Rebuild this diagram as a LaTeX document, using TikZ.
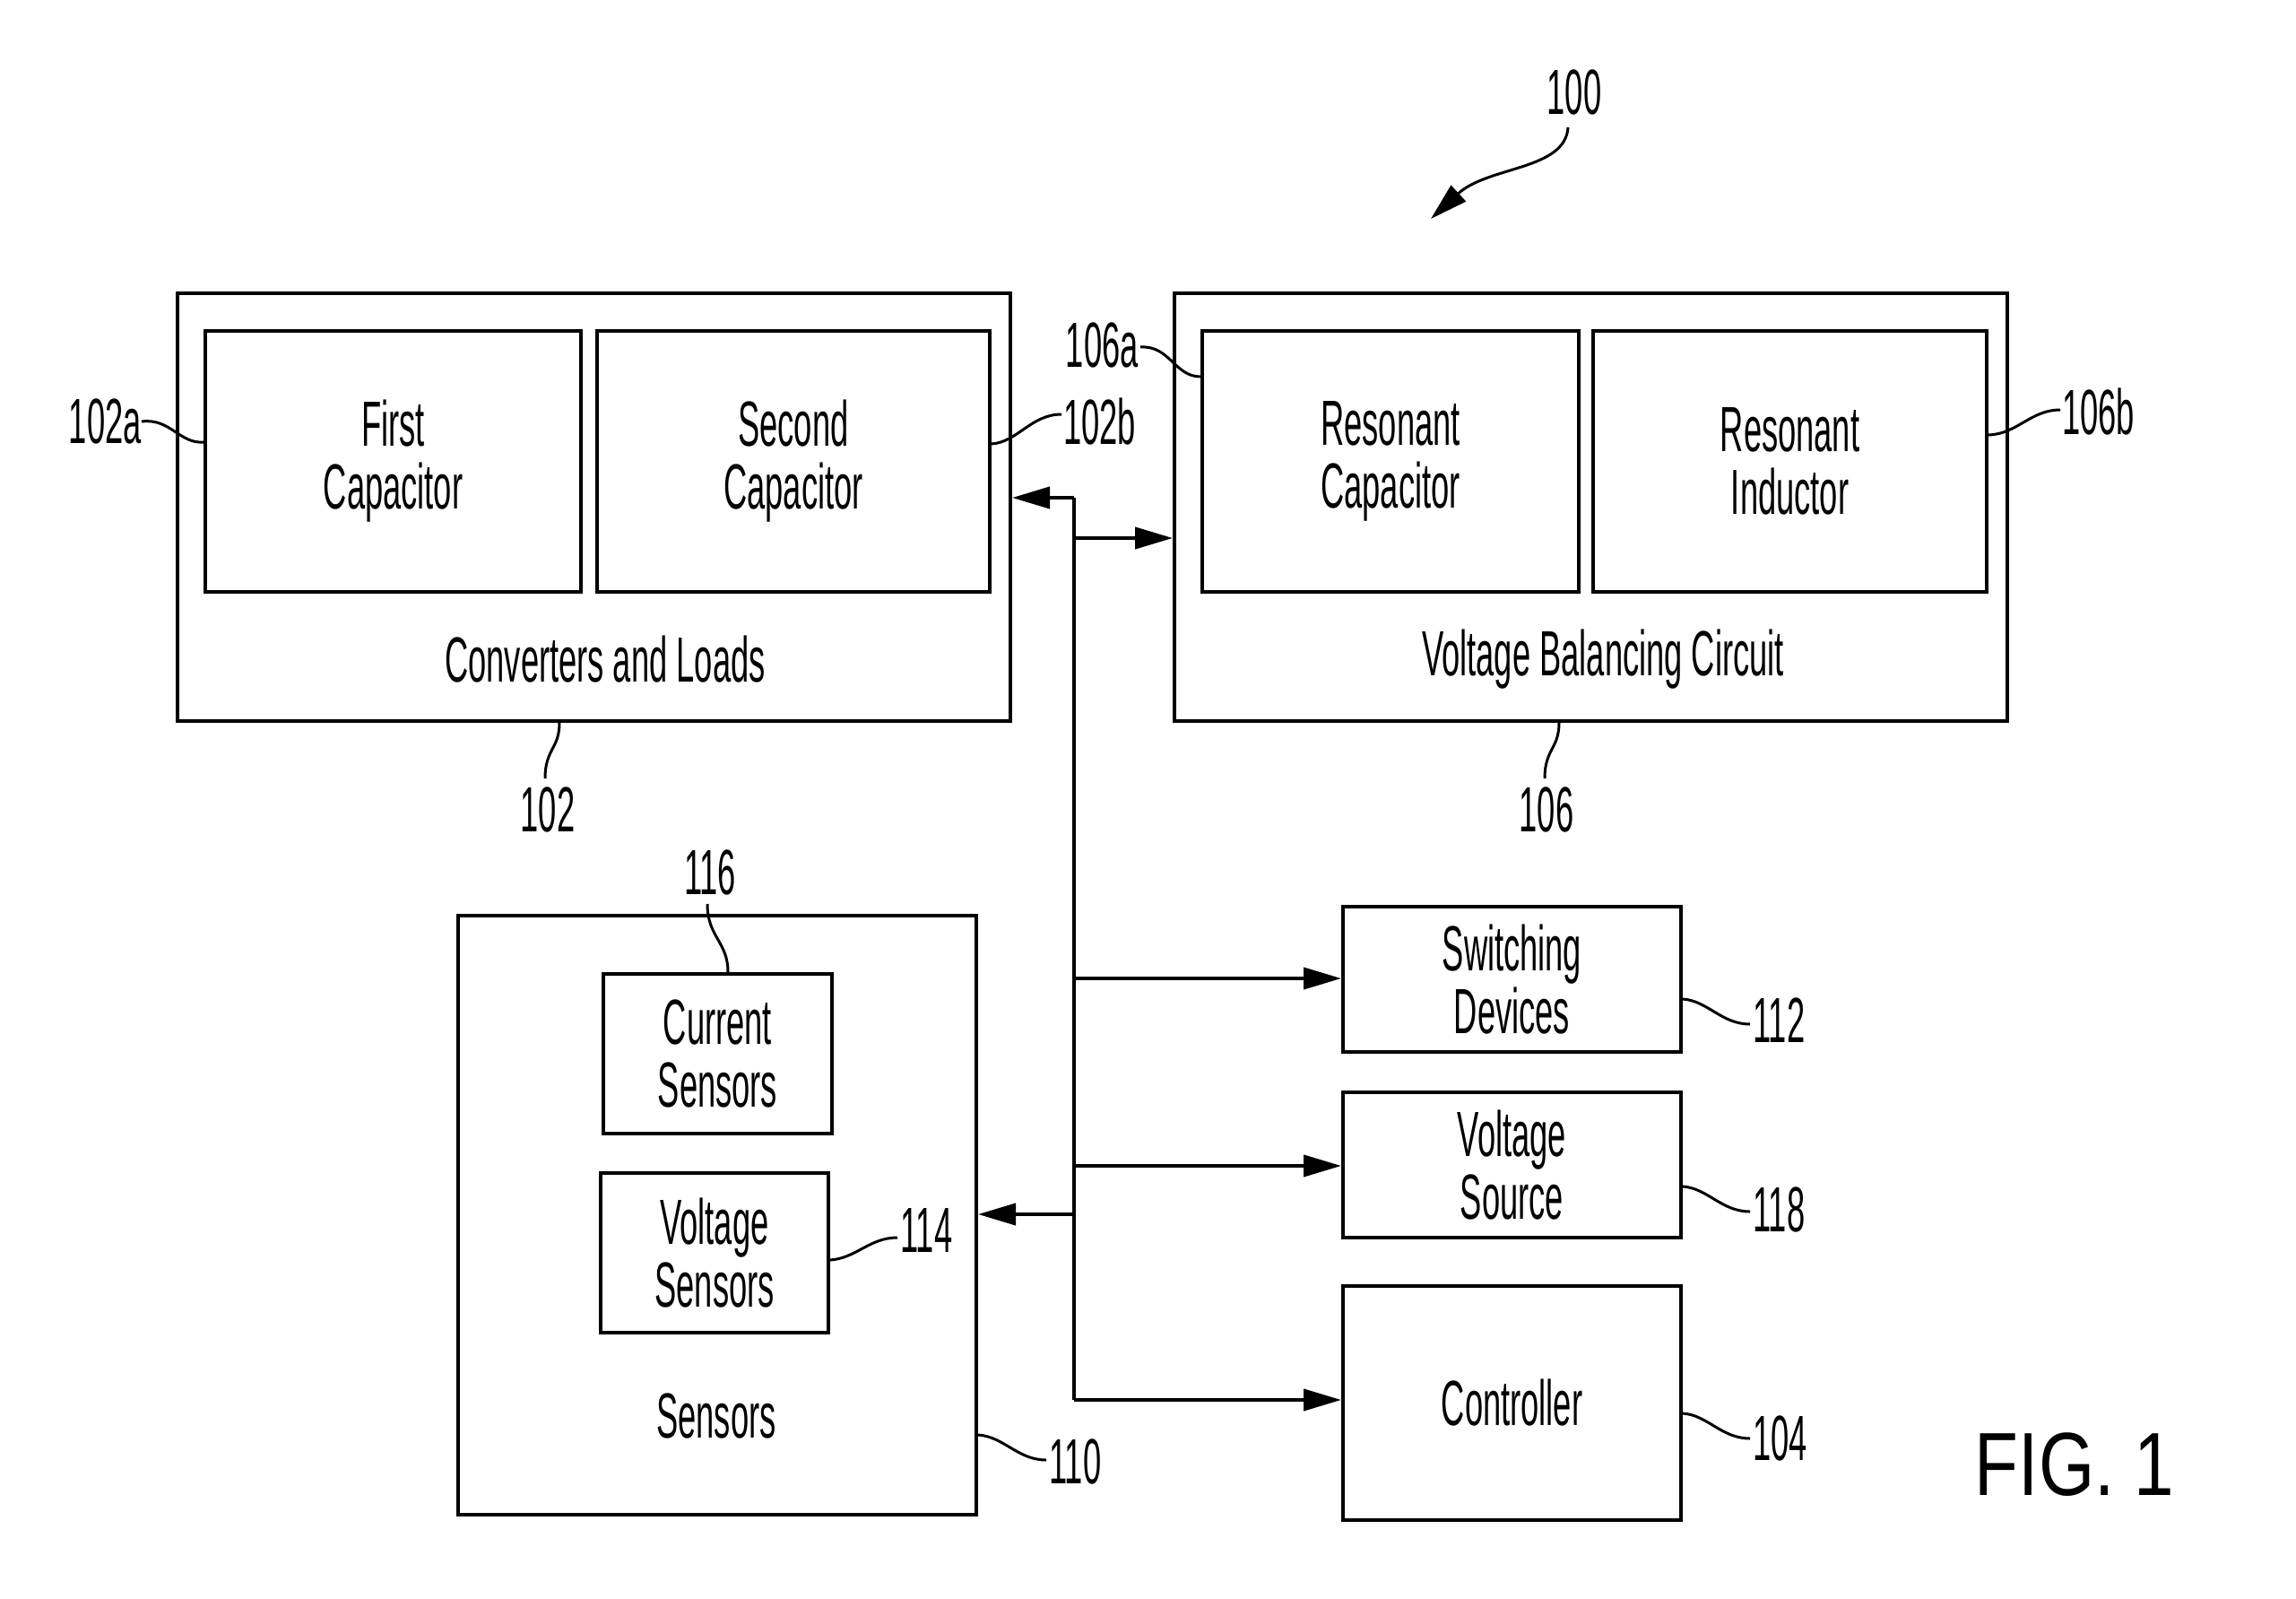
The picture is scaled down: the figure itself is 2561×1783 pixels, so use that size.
\documentclass[tikz,border=0pt]{standalone}
\usepackage{fontspec}
\newfontfamily\condfont[FakeStretch=0.51]{Liberation Sans}
\newfontfamily\figfont[FakeStretch=0.8]{Liberation Sans}
\usetikzlibrary{arrows.meta}
\begin{document}
\begin{tikzpicture}[x=0.5pt,y=-0.5pt,
  box/.style={draw=black,line width=2pt,rectangle,inner sep=0pt,align=center,
    font=\condfont\fontsize{35.6}{35}\selectfont},
  txt/.style={inner sep=0pt,align=center,font=\condfont\fontsize{35.6}{35}\selectfont},
  arr/.style={line width=2pt,-{Triangle[length=21pt,width=12pt]}},
  bus/.style={line width=2pt},
  lead/.style={line width=1.5pt}]
\useasboundingbox (0,0) rectangle (2561,1783);
% outer boxes
\node[box,minimum width=464.5pt,minimum height=238.5pt] (n102) at (662.5,565.5) {};
\node[box,minimum width=464.5pt,minimum height=238.5pt] (n106) at (1774.5,565.5) {};
\node[box,minimum width=289pt,minimum height=334pt] (n110) at (800,1355) {};
% inner boxes
\node[box,minimum width=209.5pt,minimum height=145.5pt] (n102a) at (438.5,514.5) {First\\Capacitor};
\node[box,minimum width=219pt,minimum height=145.5pt] (n102b) at (885,514.5) {Second\\Capacitor};
\node[box,minimum width=210pt,minimum height=145.5pt] (n106a) at (1551,514.5) {Resonant\\Capacitor};
\node[box,minimum width=219.5pt,minimum height=145.5pt] (n106b) at (1996.5,514.5) {Resonant\\Inductor};
\node[box,minimum width=127.5pt,minimum height=89pt] (n116) at (800.5,1175) {Current\\Sensors};
\node[box,minimum width=127pt,minimum height=89pt] (n114) at (797,1397) {Voltage\\Sensors};
\node[box,minimum width=188.5pt,minimum height=81pt] (n112) at (1686.5,1092) {Switching\\Devices};
\node[box,minimum width=188.5pt,minimum height=81pt] (n118) at (1686.5,1299) {Voltage\\Source};
\node[box,minimum width=188.5pt,minimum height=130.5pt] (n104) at (1686.5,1564.5) {Controller};
% box titles
\node[txt] (t102) at (675,735) {Converters and Loads};
\node[txt] (t106) at (1788,735) {Voltage Balancing Circuit};
\node[txt] (t110) at (799,1579) {Sensors};
% bus
\coordinate (bt) at (1198,555);
\coordinate (j106) at (1198,600);
\coordinate (j112) at (1198,1091);
\coordinate (j118) at (1198,1300);
\coordinate (j110) at (1198,1354);
\coordinate (bb) at (1198,1561);
\draw[bus] (bt) -- (bb);
\draw[arr] (bt) -- (bt -| n102.east);
\draw[arr] (j106) -- (j106 -| n106.west);
\draw[arr] (j112) -- (j112 -| n112.west);
\draw[arr] (j118) -- (j118 -| n118.west);
\draw[arr] (j110) -- (j110 -| n110.east);
\draw[arr] (bb) -- (bb -| n104.west);
% reference labels
\node[txt,anchor=center] (l100) at (1756,103) {100};
\coordinate (a100) at (1596,244);
\draw[lead,-{Triangle[length=21pt,width=12pt]}] (1749,142) .. controls (1746,190) and (1660,185) .. (a100);
\node[txt,anchor=east] (l102a) at (158,470) {102a};
\draw[lead] (l102a.east) .. controls (190,466) and (200,495) .. (n102a.west |- 0,493);
\node[txt,anchor=west] (l102b) at (1186,470) {102b};
\draw[lead] (n102b.east |- 0,495) .. controls (1135,493) and (1150,462) .. (1184,462);
\node[txt,anchor=east] (l106a) at (1270,385) {106a};
\draw[lead] (1272,387) .. controls (1305,385) and (1310,420) .. (n106a.west |- 0,420);
\node[txt,anchor=west] (l106b) at (2300,459) {106b};
\draw[lead] (n106b.east |- 0,485) .. controls (2250,484) and (2265,457) .. (2298,457);
\node[txt] (l102) at (611,903) {102};
\draw[lead] (n102.south -| 624,0) .. controls (624,835) and (608,835) .. (608,868);
\node[txt] (l106) at (1725,903) {106};
\draw[lead] (n106.south -| 1739,0) .. controls (1739,835) and (1723,835) .. (1723,868);
\node[txt] (l116) at (792,973) {116};
\draw[lead] (789,1008) .. controls (789,1045) and (812,1050) .. (n116.north -| 812,0);
\node[txt,anchor=west] (l114) at (1004,1372) {114};
\draw[lead] (n114.east |- 0,1405) .. controls (955,1403) and (970,1380) .. (1001,1380);
\node[txt,anchor=west] (l110) at (1170,1630) {110};
\draw[lead] (n110.east |- 0,1600) .. controls (1120,1602) and (1135,1628) .. (1167,1628);
\node[txt,anchor=west] (l112) at (1955,1138) {112};
\draw[lead] (n112.east |- 0,1114) .. controls (1905,1116) and (1920,1142) .. (1952,1142);
\node[txt,anchor=west] (l118) at (1955,1349) {118};
\draw[lead] (n118.east |- 0,1323) .. controls (1905,1325) and (1920,1351) .. (1952,1351);
\node[txt,anchor=west] (l104) at (1955,1604) {104};
\draw[lead] (n104.east |- 0,1576) .. controls (1905,1578) and (1920,1604) .. (1952,1604);
\node[inner sep=0pt,font=\figfont\fontsize{50}{50}\selectfont] (fig) at (2314,1633) {FIG. 1};
\end{tikzpicture}
\end{document}
